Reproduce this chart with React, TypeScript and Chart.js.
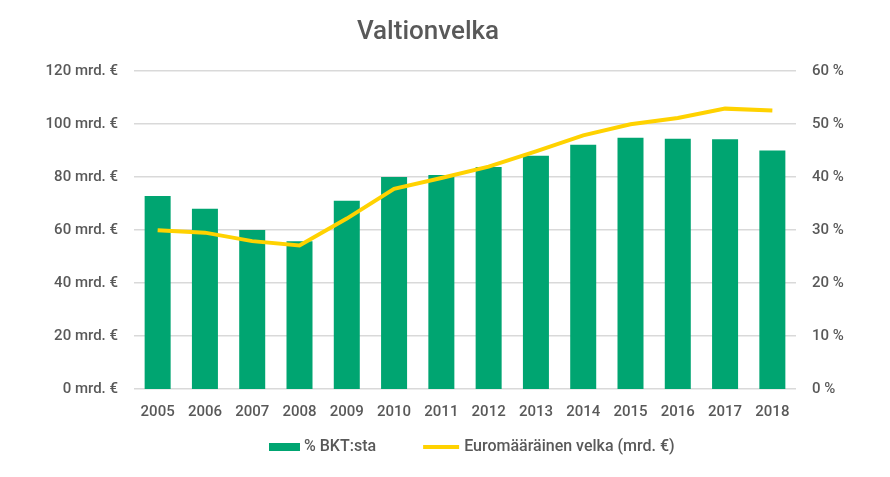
import React, { useEffect, useRef } from "react";
import { Chart, registerables } from "chart.js";

Chart.register(...registerables);

const years = ["2005", "2006", "2007", "2008", "2009", "2010", "2011", "2012", "2013", "2014", "2015", "2016", "2017", "2018"];
const pctOfGdp = [36.4, 34.0, 30.0, 27.9, 35.5, 40.0, 40.4, 41.9, 44.0, 46.1, 47.4, 47.2, 47.1, 45.0];
const debtBn = [59.9, 59.0, 55.8, 54.2, 64.3, 75.5, 79.6, 83.9, 89.7, 95.7, 99.9, 102.3, 105.8, 105.1];
const leftTicksLabel = "mrd. €";
const rightTicksLabel = "%";
const titleText = "Valtionvelka";

const GREEN = "#00A571";
const YELLOW = "#FFD200";
const TEXT = "#595959";
const FONT = "Roboto, 'Liberation Sans', sans-serif";

const customDecor = {
  id: "customDecor",
  afterDraw(chart: any) {
    const ctx = chart.ctx as CanvasRenderingContext2D;
    const ds = chart.data.datasets;
    ctx.save();
    // title
    ctx.font = `500 26px ${FONT}`;
    ctx.textAlign = "center";
    ctx.textBaseline = "middle";
    ctx.fillStyle = TEXT;
    ctx.fillText(titleText, 428, 32);
    // legend
    ctx.textAlign = "left";
    ctx.font = `500 16px ${FONT}`;
    const y = 447;
    const w1 = ctx.measureText(ds[0].label).width;
    let x = 269;
    ctx.fillStyle = ds[0].backgroundColor;
    ctx.fillRect(x, y - 4, 31, 8);
    x += 35;
    ctx.fillStyle = TEXT;
    ctx.fillText(ds[0].label, x, y);
    x += w1 + 47;
    ctx.fillStyle = ds[1].borderColor;
    ctx.fillRect(x, y - 2, 36, 4);
    x += 41;
    ctx.fillStyle = TEXT;
    ctx.fillText(ds[1].label, x, y);
    ctx.restore();
  },
};

export default function App() {
  const ref = useRef<HTMLCanvasElement>(null);
  useEffect(() => {
    const chart = new Chart(ref.current!, {
      type: "bar",
      data: {
        labels: years,
        datasets: [
          {
            type: "bar",
            label: "% BKT:sta",
            data: pctOfGdp,
            backgroundColor: GREEN,
            yAxisID: "y1",
            barPercentage: 0.55,
            categoryPercentage: 1,
            order: 2,
          },
          {
            type: "line",
            label: "Euromääräinen velka (mrd. €)",
            data: debtBn,
            borderColor: YELLOW,
            backgroundColor: YELLOW,
            borderWidth: 4,
            pointRadius: 0,
            tension: 0,
            yAxisID: "y",
            order: 1,
          },
        ],
      },
      options: {
        animation: false,
        responsive: false,
        devicePixelRatio: 1,
        layout: { padding: { top: 71, bottom: 42, left: 0, right: 0 } },
        plugins: {
          title: { display: false },
          legend: { display: false },
          tooltip: { enabled: false },
        },
        scales: {
          x: {
            grid: { display: false, drawTicks: false },
            border: { display: false },
            ticks: { color: TEXT, font: { family: FONT, size: 15, weight: "500" as any }, padding: 14, maxRotation: 0 },
          },
          y: {
            position: "left",
            min: 0,
            max: 120,
            grid: { color: "#D9D9D9", lineWidth: 1.5, drawTicks: false },
            border: { display: false },
            ticks: {
              stepSize: 20,
              color: TEXT,
              font: { family: FONT, size: 15, weight: "500" as any },
              padding: 16,
              callback: (v: any) => `${v} ${leftTicksLabel}`,
            },
            afterFit: (s: any) => {
              s.width = 134;
            },
          },
          y1: {
            position: "right",
            min: 0,
            max: 60,
            grid: { display: false, drawTicks: false },
            border: { display: false },
            ticks: {
              stepSize: 10,
              color: TEXT,
              font: { family: FONT, size: 15, weight: "500" as any },
              padding: 16,
              callback: (v: any) => `${v} ${rightTicksLabel}`,
            },
            afterFit: (s: any) => {
              s.width = 94;
            },
          },
        },
      },
      plugins: [customDecor],
    });
    return () => chart.destroy();
  }, []);
  return (
    <div style={{ position: "absolute", left: 0, top: 0, width: 890, height: 477, background: "#fff" }}>
      <canvas ref={ref} width={890} height={477} style={{ width: 890, height: 477 }} />
    </div>
  );
}
